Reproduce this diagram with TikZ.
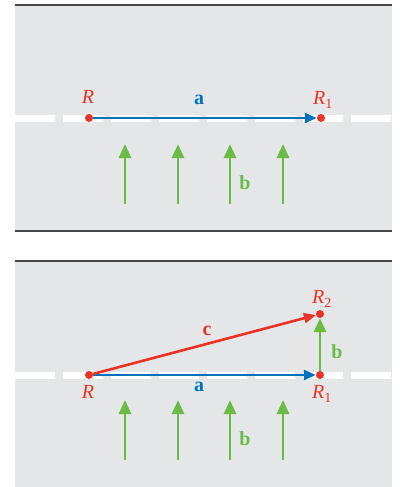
\documentclass[tikz,border=0pt]{standalone}
\usepackage{fontspec}
\setmainfont{Liberation Serif}
\usepackage{xcolor}
\usepackage{tikz}
\usetikzlibrary{arrows.meta, positioning, calc}
\definecolor{roadgray}{RGB}{229,230,231}
\definecolor{edgegray}{RGB}{70,70,72}
\definecolor{ptred}{RGB}{236,50,38}
\definecolor{vecblue}{RGB}{0,114,188}
\definecolor{vecgreen}{RGB}{106,188,70}
\tikzset{
  road/.style={fill=roadgray, draw=none},
  edge/.style={draw=edgegray, line width=2pt},
  lane/.style={draw=white, line width=7pt, dash pattern=on 40pt off 8pt},
  dot/.style={circle, fill=ptred, inner sep=0pt, minimum size=8pt},
  ptlabel/.style={text=ptred, font=\fontsize{20}{22}\selectfont\itshape},
  veclabel/.style={font=\fontsize{20}{22}\selectfont\bfseries},
  avec/.style={-{Triangle[length=12pt, width=10pt]}, line width=2.6pt, draw=vecblue},
  bvec/.style={-{Triangle[length=14pt, width=12pt]}, line width=2.8pt, draw=vecgreen},
  cvec/.style={-{Triangle[length=12pt, width=10pt]}, line width=2.6pt, draw=ptred},
}
\newcommand{\pt}[1]{R\textsubscript{\upshape#1}}

\begin{document}
\begin{tikzpicture}[x=1pt, y=-1pt]
\useasboundingbox (0,0) rectangle (399,487);

% ========== Panel gorny ==========
\fill[road] (15,5) rectangle (392,231);
\draw[edge] (15,5) -- (392,5);
\draw[edge] (15,231) -- (392,231);
\draw[lane] (15,118) -- (392,118);

\node[dot] (Ra) at (89,118) {};
\node[dot] (R1a) at (321,118) {};
\node[ptlabel] (lRa) at (88,97) {R};
\node[ptlabel] (lR1a) at (323,100) {\pt{1}};

\draw[avec] (Ra) -- (R1a);
\node[veclabel, text=vecblue] (la1) at (199,100) {a};

% wiatr
\foreach \x [count=\i] in {125,178,230,283} {
  \coordinate (wa\i s) at (\x,204);
  \coordinate (wa\i e) at (\x,144);
  \draw[bvec] (wa\i s) -- (wa\i e);
}
\node[veclabel, text=vecgreen] (lb1) at (245,183) {b};

% ========== Panel dolny ==========
\fill[road] (15,261) rectangle (392,487);
\draw[edge] (15,261) -- (392,261);
\draw[lane] (15,375) -- (392,375);

\node[dot] (Rb) at (89,375) {};
\node[dot] (R1b) at (320,375) {};
\node[dot] (R2b) at (320,314) {};
\node[ptlabel] (lRb) at (88,392) {R};
\node[ptlabel] (lR1b) at (322,394) {\pt{1}};
\node[ptlabel] (lR2b) at (322,299) {\pt{2}};

\draw[avec] (Rb) -- (R1b);
\draw[bvec] (R1b) -- (R2b);
\draw[cvec] (Rb) -- (R2b);
\node[veclabel, text=vecblue] (la2) at (199,387) {a};
\node[veclabel, text=ptred] (lc) at (207,331) {c};
\node[veclabel, text=vecgreen] (lb2) at (337,352) {b};

% wiatr
\foreach \x [count=\i] in {125,178,230,283} {
  \coordinate (wb\i s) at (\x,460);
  \coordinate (wb\i e) at (\x,400);
  \draw[bvec] (wb\i s) -- (wb\i e);
}
\node[veclabel, text=vecgreen] (lb3) at (245,439) {b};

\end{tikzpicture}
\end{document}
